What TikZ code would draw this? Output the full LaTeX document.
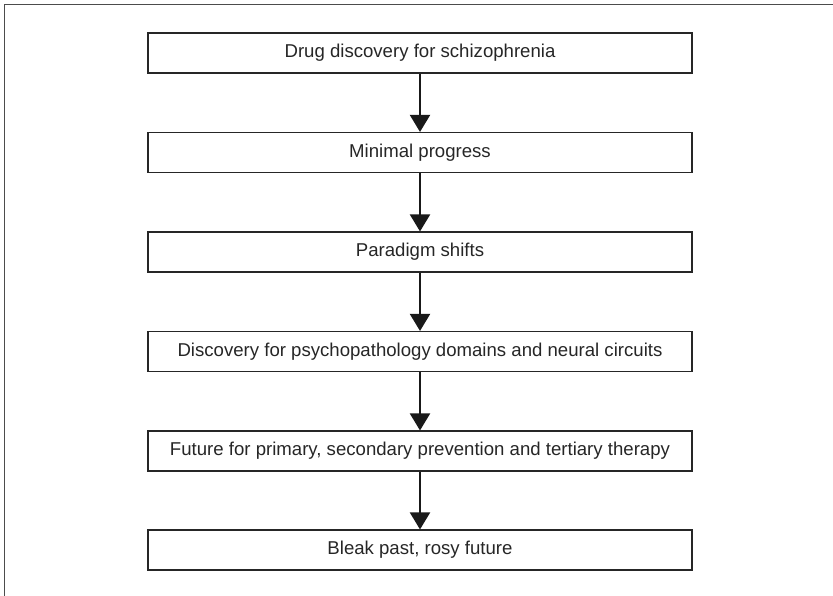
\documentclass[tikz,border=0pt]{standalone}
\usepackage{fontspec}
\setmainfont{Liberation Sans}
\usetikzlibrary{arrows.meta}
\begin{document}
\begin{tikzpicture}[x=1pt,y=-1pt]
    \tikzstyle{stage}=[minimum width=544pt,minimum height=40pt,draw=black!85,line width=1.1pt,text=black!85,font=\fontsize{18.6}{21}\selectfont,inner sep=0pt]
    \tikzstyle{down}=[line width=2pt,black!90,-{Triangle[width=20pt,length=17pt]}]
    \useasboundingbox (0,0) rectangle (833,596);
    \draw[black!70,line width=1pt] (4.5,596) -- (4.5,4.5) -- (833,4.5);
    \node[stage] (drug) at (420,53) {Drug discovery for schizophrenia};
    \node[stage] (minimal) at (420,152.5) {Minimal progress};
    \node[stage] (shifts) at (420,252) {Paradigm shifts};
    \node[stage] (circuits) at (420,351.5) {Discovery for psychopathology domains and neural circuits};
    \node[stage] (therapy) at (420,451) {Future for primary, secondary prevention and tertiary therapy};
    \node[stage] (rosy) at (420,550) {Bleak past, rosy future};
    \draw[down] (drug) -- (minimal);
    \draw[down] (minimal) -- (shifts);
    \draw[down] (shifts) -- (circuits);
    \draw[down] (circuits) -- (therapy);
    \draw[down] (therapy) -- (rosy);
\end{tikzpicture}
\end{document}
